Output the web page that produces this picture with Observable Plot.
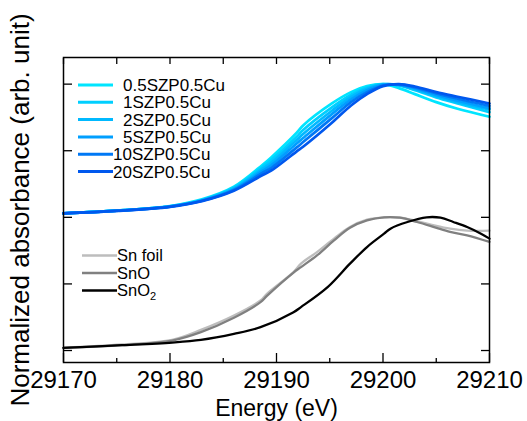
<!DOCTYPE html>
<html><head><meta charset="utf-8">
<script src="https://cdn.jsdelivr.net/npm/d3@7"></script>
<script src="https://cdn.jsdelivr.net/npm/@observablehq/plot@0.6"></script>
<style>body{margin:0;background:#fff;} svg{display:block}</style>
</head><body><div id="chart"></div>
<script>
// ---- axis ticks / labels ----
const xMajorTicks = [29170, 29180, 29190, 29200, 29210];
const xMinorTicks = [29175, 29185, 29195, 29205];
const yTicks = [0, 0.5, 1, 1.5, 2];
const xLabel = "Energy (eV)";
const yLabel = "Normalized absorbance (arb. unit)";

// ---- upper group: Cu-containing samples (normalized, drawn with offset 1) ----
const cuNames = ["0.5SZP0.5Cu", "1SZP0.5Cu", "2SZP0.5Cu", "5SZP0.5Cu", "10SZP0.5Cu", "20SZP0.5Cu"];
const cuColors = ["#00e5ff", "#00cfff", "#00b9ff", "#009fff", "#0078f5", "#0058ee"];
const cuEnergy = [29170, 29175, 29180, 29183, 29186, 29188.7, 29189.5, 29191.9, 29192.5, 29195.2, 29197, 29198.5, 29200, 29201.5, 29203, 29205, 29207, 29210];
const cu05 = [0.03, 0.05, 0.085, 0.135, 0.23, 0.395, 0.45, 0.635, 0.69, 0.855, 0.94, 0.985, 1.0, 0.97, 0.925, 0.865, 0.815, 0.755];
const cu1  = [0.03, 0.05, 0.083, 0.13, 0.222, 0.38, 0.43, 0.605, 0.655, 0.825, 0.92, 0.975, 1.0, 0.99, 0.955, 0.9, 0.855, 0.79];
const cu2  = [0.03, 0.05, 0.082, 0.128, 0.216, 0.365, 0.41, 0.58, 0.625, 0.8, 0.905, 0.965, 0.998, 0.993, 0.962, 0.91, 0.865, 0.81];
const cu5  = [0.03, 0.05, 0.081, 0.126, 0.21, 0.35, 0.39, 0.555, 0.595, 0.775, 0.885, 0.955, 0.995, 0.995, 0.968, 0.918, 0.875, 0.82];
const cu10 = [0.03, 0.049, 0.08, 0.124, 0.205, 0.335, 0.37, 0.525, 0.565, 0.745, 0.865, 0.94, 0.99, 0.998, 0.975, 0.93, 0.89, 0.837];
const cu20 = [0.03, 0.048, 0.079, 0.122, 0.2, 0.318, 0.35, 0.495, 0.53, 0.71, 0.84, 0.925, 0.985, 1.0, 0.982, 0.94, 0.905, 0.855];
const cuOffset = 1;

// ---- lower group: references ----
const refNames = ["Sn foil", "SnO", "SnO2"];
const refColors = ["#bdbdbd", "#808080", "#000000"];
const snEnergy = [29170, 29175.5, 29180.2, 29182.9, 29186, 29188.5, 29189.1, 29191.6, 29192.3, 29193.8, 29195.4, 29196.9, 29198.5, 29200.1, 29201.6, 29203.2, 29204.8, 29206.3, 29207.9, 29210];
const snFoil = [0.02, 0.045, 0.08, 0.155, 0.263, 0.376, 0.426, 0.589, 0.652, 0.739, 0.84, 0.927, 0.982, 1.0, 0.997, 0.972, 0.94, 0.915, 0.9, 0.9];
const snO    = [0.02, 0.04, 0.075, 0.138, 0.246, 0.363, 0.41, 0.585, 0.626, 0.714, 0.827, 0.922, 0.977, 1.0, 0.997, 0.965, 0.927, 0.89, 0.865, 0.815];
const snO2Energy = [29170, 29175.5, 29180.2, 29182.9, 29186, 29188.5, 29191.6, 29192.3, 29194.8, 29196.9, 29198.5, 29200.1, 29200.7, 29202.3, 29204.1, 29205.4, 29206.6, 29207.9, 29209.2, 29210];
const snO2 = [0.02, 0.04, 0.06, 0.08, 0.125, 0.175, 0.288, 0.326, 0.476, 0.652, 0.777, 0.877, 0.915, 0.965, 1.0, 0.997, 0.965, 0.927, 0.877, 0.84];

const zip = (xs, ys) => xs.map((E, i) => ({E, v: ys[i]}));
const cuSeries = [cu05, cu1, cu2, cu5, cu10, cu20].map(ys => zip(cuEnergy, ys));
const refSeries = [zip(snEnergy, snFoil), zip(snEnergy, snO), zip(snO2Energy, snO2)];

const lineMarks = [];
refSeries.forEach((s, i) => lineMarks.push(Plot.line(s, {x: "E", y: "v", stroke: refColors[i], strokeWidth: 2.3, curve: "catmull-rom"})));
cuSeries.forEach((s, i) => lineMarks.push(Plot.line(s, {x: "E", y: d => d.v + cuOffset, stroke: cuColors[i], strokeWidth: 2.7, curve: "catmull-rom"})));

const chart = Plot.plot({
  width: 527, height: 421,
  marginLeft: 63, marginRight: 38, marginTop: 57, marginBottom: 59,
  style: {fontFamily: "'Liberation Sans', Arial, sans-serif", background: "#fff", color: "#000"},
  x: {domain: [29170, 29210], label: null},
  y: {domain: [-0.09, 2.2], label: null},
  marks: [
    ...lineMarks,
    Plot.frame({stroke: "#000", strokeWidth: 1.5}),
    Plot.axisX(xMajorTicks, {anchor: "bottom", tickSize: -9, tickPadding: 17, fontSize: 24, strokeWidth: 1.3, tickFormat: d => String(d), label: null}),
    Plot.axisX(xMinorTicks, {anchor: "bottom", tickSize: -4, strokeWidth: 1.3, tickFormat: () => "", label: null}),
    Plot.axisX([...xMajorTicks, ...xMinorTicks], {anchor: "top", tickSize: -6, strokeWidth: 1.3, tickFormat: () => "", label: null}),
    Plot.axisY(yTicks, {anchor: "left", tickSize: -9, strokeWidth: 1.3, tickFormat: () => "", label: null}),
    Plot.axisY(yTicks, {anchor: "right", tickSize: -9, strokeWidth: 1.3, tickFormat: () => "", label: null}),
    Plot.text([xLabel], {text: d => d, frameAnchor: "bottom", dy: 46, fontSize: 23, lineAnchor: "middle", textAnchor: "middle"}),
    Plot.text([yLabel], {text: d => d, frameAnchor: "left", dx: -43, rotate: -90, fontSize: 26, lineAnchor: "middle", textAnchor: "middle"})
  ]
});

// ---- legends ----
const svg = d3.select(chart);
const lg = svg.append("g").attr("font-family", "'Liberation Sans', Arial, sans-serif").attr("text-anchor", "start");
const cuRowY = [85, 102.3, 119.6, 136.9, 154.2, 171.5];
const cuTextX = [123, 123, 123, 123, 113, 113];
cuNames.forEach((n, i) => {
  lg.append("line").attr("x1", 78).attr("x2", 113).attr("y1", cuRowY[i]).attr("y2", cuRowY[i])
    .attr("stroke", cuColors[i]).attr("stroke-width", 3);
  lg.append("text").attr("x", cuTextX[i]).attr("y", cuRowY[i]).attr("dy", "0.36em")
    .attr("font-size", 17).attr("fill", "#000").attr("text-anchor", "start").text(n);
});
const refRowY = [255.5, 273, 290.5];
refNames.forEach((n, i) => {
  lg.append("line").attr("x1", 82).attr("x2", 117).attr("y1", refRowY[i]).attr("y2", refRowY[i])
    .attr("stroke", refColors[i]).attr("stroke-width", 2.5);
  const t = lg.append("text").attr("x", 117).attr("y", refRowY[i]).attr("dy", "0.36em")
    .attr("font-size", 16.5).attr("fill", "#000").attr("text-anchor", "start");
  if (n === "SnO2") {
    t.append("tspan").text("SnO");
    t.append("tspan").attr("font-size", 11).attr("dy", 4).text("2");
  } else t.text(n);
});

document.getElementById("chart").appendChild(chart);
</script>
</body></html>
